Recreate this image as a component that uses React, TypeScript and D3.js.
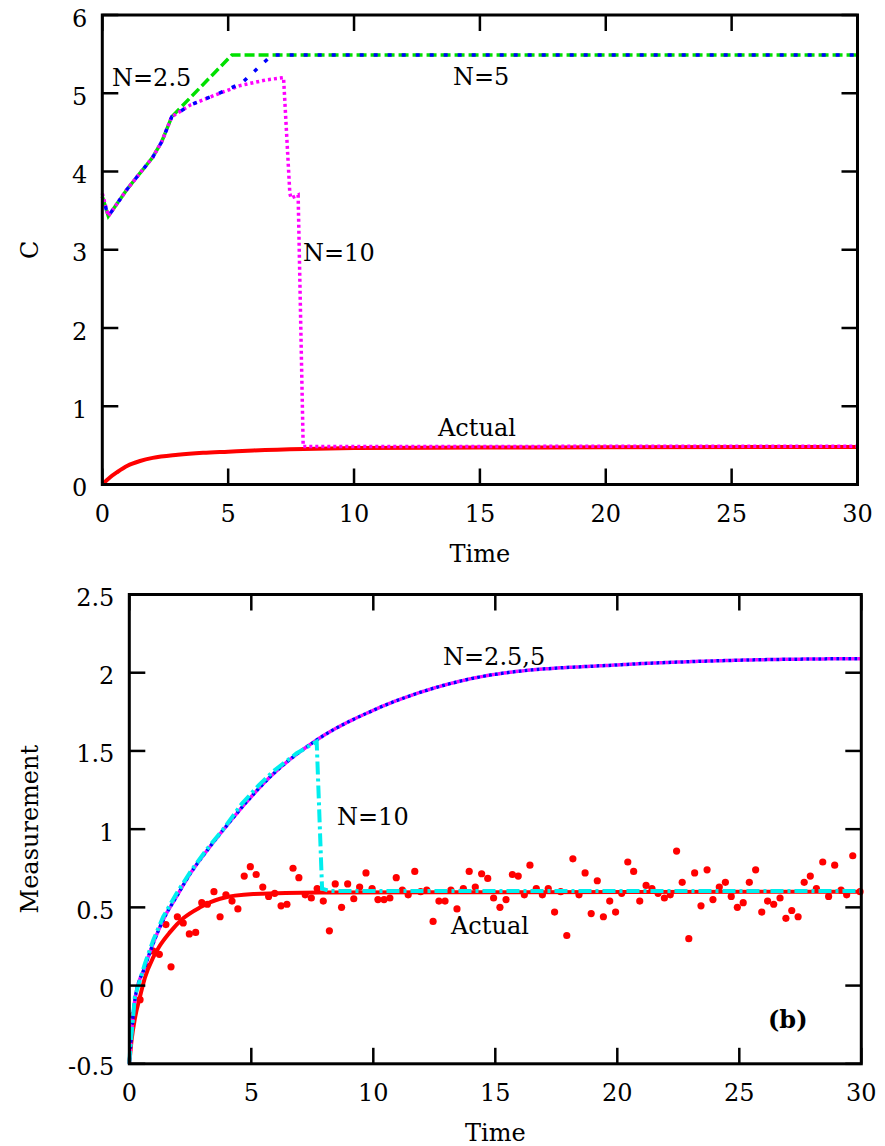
import React from 'react';
import * as d3 from 'd3';

const xTicks = [0, 5, 10, 15, 20, 25, 30];
const topYTicks = [0, 1, 2, 3, 4, 5, 6];
const botYTicks = [-0.5, 0, 0.5, 1, 1.5, 2, 2.5];

// Panel (a): estimated states C
const topActual: [number, number][] = [
  [0, 0], [0.3, 0.09], [0.6, 0.16], [1, 0.24], [1.5, 0.3], [2, 0.34], [3, 0.38], [4, 0.405],
  [5, 0.42], [6, 0.435], [8, 0.455], [10, 0.465], [15, 0.472], [20, 0.476], [30, 0.48],
];
const topN25: [number, number][] = [
  [0, 3.68], [0.24, 3.43], [1, 3.78], [2, 4.18], [2.36, 4.38], [2.76, 4.7], [5.15, 5.49], [30, 5.49],
];
const topN5: [number, number][] = [
  [0, 3.68], [0.24, 3.43], [1, 3.78], [2, 4.18], [2.36, 4.38], [2.76, 4.7], [3.5, 4.85],
  [4.5, 4.98], [5.54, 5.13], [6.74, 5.49], [30, 5.49],
];
const topN10: [number, number][] = [
  [0, 3.72], [0.24, 3.43], [1, 3.78], [2, 4.18], [2.36, 4.38], [2.76, 4.7], [3.5, 4.85],
  [4.5, 4.98], [5.5, 5.1], [6.5, 5.17], [7.2, 5.2], [7.45, 3.72], [7.5, 3.66], [7.78, 3.7],
  [7.98, 0.485], [10, 0.485], [20, 0.488], [30, 0.49],
];

// Panel (b): measurements
const botActual: [number, number][] = [
  [0, -0.5], [0.1, -0.34], [0.23, -0.21], [0.44, -0.07], [0.64, 0.05], [0.98, 0.18], [1.23, 0.25],
  [1.66, 0.34], [2.21, 0.43], [2.9, 0.5], [3.72, 0.555], [5.08, 0.585], [7.8, 0.595], [15, 0.597], [30, 0.6],
];
const botN255: [number, number][] = [
  [0, -0.5], [0.03, -0.43], [0.23, -0.09], [0.64, 0.12], [0.98, 0.27], [1.39, 0.42], [1.94, 0.57],
  [2.56, 0.73], [3.17, 0.86], [3.85, 0.995], [5.9, 1.353], [7.68, 1.57], [10, 1.76], [12.6, 1.907],
  [15, 1.99], [20, 2.05], [25, 2.08], [30, 2.09],
];
const botN10: [number, number][] = [
  [0, -0.5], [0.03, -0.42], [0.23, -0.07], [0.64, 0.14], [0.98, 0.29], [1.39, 0.44], [1.94, 0.59],
  [2.56, 0.74], [3.17, 0.87], [3.85, 1.0], [4.6, 1.16], [5.3, 1.28], [5.9, 1.37], [6.86, 1.485],
  [7.68, 1.56], [7.9, 0.62], [8.2, 0.605], [15, 0.605], [30, 0.605],
];
const measurements: [number, number][] = [
  [0.16, -0.19], [0.44, -0.09], [0.71, 0.125], [0.98, 0.22], [1.23, 0.2], [1.5, 0.39], [1.71, 0.12],
  [1.97, 0.44], [2.21, 0.4], [2.46, 0.33], [2.72, 0.34], [2.97, 0.53], [3.2, 0.52], [3.47, 0.6],
  [3.72, 0.44], [3.96, 0.58], [4.21, 0.54], [4.45, 0.49], [4.71, 0.7], [4.96, 0.76], [5.2, 0.71],
  [5.47, 0.63], [5.71, 0.57], [5.96, 0.59], [6.22, 0.51], [6.46, 0.52], [6.71, 0.75], [6.95, 0.69],
  [7.21, 0.58], [7.46, 0.56], [7.7, 0.62], [7.95, 0.54], [8.2, 0.35], [8.44, 0.65], [8.7, 0.5],
  [8.95, 0.65], [9.2, 0.555], [9.44, 0.63], [9.7, 0.72], [9.95, 0.62], [10.19, 0.55], [10.44, 0.55],
  [10.68, 0.56], [10.94, 0.69], [11.19, 0.61], [11.43, 0.58], [11.7, 0.73], [11.94, 0.6], [12.19, 0.61],
  [12.45, 0.41], [12.69, 0.54], [12.94, 0.54], [13.18, 0.61], [13.43, 0.49], [13.69, 0.62], [13.93, 0.73],
  [14.18, 0.63], [14.44, 0.715], [14.69, 0.685], [14.93, 0.56], [15.19, 0.5], [15.44, 0.55], [15.7, 0.71],
  [15.94, 0.7], [16.19, 0.58], [16.42, 0.77], [16.68, 0.62], [16.93, 0.58], [17.17, 0.62], [17.43, 0.47],
  [17.68, 0.6], [17.93, 0.32], [18.18, 0.81], [18.43, 0.58], [18.68, 0.72], [18.93, 0.46], [19.18, 0.67],
  [19.43, 0.44], [19.69, 0.54], [19.93, 0.47], [20.18, 0.59], [20.43, 0.79], [20.67, 0.73], [20.92, 0.54],
  [21.18, 0.64], [21.42, 0.62], [21.67, 0.59], [21.93, 0.56], [22.17, 0.58], [22.43, 0.86], [22.66, 0.66],
  [22.93, 0.3], [23.17, 0.72], [23.43, 0.51], [23.68, 0.74], [23.92, 0.55], [24.18, 0.63], [24.43, 0.66],
  [24.67, 0.57], [24.92, 0.5], [25.16, 0.53], [25.41, 0.66], [25.67, 0.74], [25.92, 0.47], [26.16, 0.54],
  [26.41, 0.52], [26.67, 0.56], [26.91, 0.43], [27.15, 0.48], [27.41, 0.44], [27.66, 0.66], [27.91, 0.7],
  [28.16, 0.62], [28.42, 0.79], [28.66, 0.57], [28.91, 0.77], [29.17, 0.61], [29.4, 0.58], [29.65, 0.83],
  [29.95, 0.6],
];

const FONT = 'DejaVu Serif';
const FS = 24;
const TICK = 16;

type Box = { left: number; right: number; top: number; bottom: number };

function Frame({ box, x, y, yTicks, yLabel, yLabelX }: {
  box: Box; x: d3.ScaleLinear<number, number>; y: d3.ScaleLinear<number, number>;
  yTicks: number[]; yLabel: string; yLabelX: number;
}) {
  const { left, right, top, bottom } = box;
  return (
    <g>
      {xTicks.map((t) => (
        <g key={'x' + t}>
          <line x1={x(t)} x2={x(t)} y1={bottom} y2={bottom - TICK} stroke="#000" strokeWidth={2.5} />
          <line x1={x(t)} x2={x(t)} y1={top} y2={top + TICK} stroke="#000" strokeWidth={2.5} />
          <text x={x(t)} y={bottom + 37} textAnchor="middle" fontFamily={FONT} fontSize={FS}>{String(t)}</text>
        </g>
      ))}
      {yTicks.map((v) => (
        <g key={'y' + v}>
          <line x1={left} x2={left + TICK} y1={y(v)} y2={y(v)} stroke="#000" strokeWidth={2.5} />
          <line x1={right} x2={right - TICK} y1={y(v)} y2={y(v)} stroke="#000" strokeWidth={2.5} />
          <text x={left - 15} y={y(v) + 11.5} textAnchor="end" fontFamily={FONT} fontSize={FS}>{String(v)}</text>
        </g>
      ))}
      <rect x={left} y={top} width={right - left} height={bottom - top} fill="none" stroke="#000" strokeWidth={3} />
      <text x={(left + right) / 2} y={bottom + 77} textAnchor="middle" fontFamily={FONT} fontSize={FS}>Time</text>
      <text transform={`translate(${yLabelX},${(top + bottom) / 2}) rotate(-90)`} textAnchor="middle"
        fontFamily={FONT} fontSize={FS}>{yLabel}</text>
    </g>
  );
}

export default function App() {
  const topBox: Box = { left: 102.3, right: 857.5, top: 15, bottom: 484.5 };
  const botBox: Box = { left: 129.3, right: 861.3, top: 594.5, bottom: 1063.8 };

  const xT = d3.scaleLinear().domain([0, 30]).range([topBox.left, topBox.right]);
  const yT = d3.scaleLinear().domain([0, 6]).range([topBox.bottom, topBox.top]);
  const xB = d3.scaleLinear().domain([0, 30]).range([botBox.left, botBox.right]);
  const yB = d3.scaleLinear().domain([-0.5, 2.5]).range([botBox.bottom, botBox.top]);

  const lineT = d3.line<[number, number]>().x((d) => xT(d[0])).y((d) => yT(d[1]));
  const lineTs = d3.line<[number, number]>().x((d) => xT(d[0])).y((d) => yT(d[1])).curve(d3.curveMonotoneX);
  const lineB = d3.line<[number, number]>().x((d) => xB(d[0])).y((d) => yB(d[1])).curve(d3.curveMonotoneX);
  const lineBl = d3.line<[number, number]>().x((d) => xB(d[0])).y((d) => yB(d[1]));

  const W = 3.5;
  return (
    <svg width={885} height={1146} style={{ position: 'absolute', left: 0, top: 0, background: '#fff' }}>
      <rect width={885} height={1146} fill="#fff" />
      {/* Panel (a) */}
      <g>
        <path d={lineTs(topActual) || ''} fill="none" stroke="#ff0000" strokeWidth={4} />
        <path d={lineT(topN25) || ''} fill="none" stroke="#00e000" strokeWidth={W} strokeDasharray="10,4" />
        <path d={lineT(topN10) || ''} fill="none" stroke="#ff00ff" strokeWidth={W} strokeDasharray="3,3" />
        <path d={lineT(topN5) || ''} fill="none" stroke="#0000ff" strokeWidth={W} strokeDasharray="4,10" strokeDashoffset={-10} />
        <Frame box={topBox} x={xT} y={yT} yTicks={topYTicks} yLabel="C" yLabelX={38} />
        <text x={112} y={86} fontFamily={FONT} fontSize={FS}>N=2.5</text>
        <text x={453} y={85} fontFamily={FONT} fontSize={FS}>N=5</text>
        <text x={303} y={261} fontFamily={FONT} fontSize={FS}>N=10</text>
        <text x={438} y={436} fontFamily={FONT} fontSize={FS}>Actual</text>
      </g>
      {/* Panel (b) */}
      <g>
        {measurements.map((d, i) => (
          <circle key={i} cx={xB(d[0])} cy={yB(d[1])} r={3.6} fill="#ff0000" />
        ))}
        <path d={lineB(botActual) || ''} fill="none" stroke="#ff0000" strokeWidth={4} />
        <path d={lineB(botN255) || ''} fill="none" stroke="#ff00ff" strokeWidth={W} strokeDasharray="3,3" />
        <path d={lineB(botN255) || ''} fill="none" stroke="#0000ff" strokeWidth={W} strokeDasharray="3,3" strokeDashoffset={3} />
        <path d={lineBl(botN10) || ''} fill="none" stroke="#00eeee" strokeWidth={W + 0.5} strokeDasharray="13,4,3,4" />
        <Frame box={botBox} x={xB} y={yB} yTicks={botYTicks} yLabel="Measurement" yLabelX={38} />
        <text x={443} y={665} fontFamily={FONT} fontSize={FS}>N=2.5,5</text>
        <text x={337} y={825} fontFamily={FONT} fontSize={FS}>N=10</text>
        <text x={451} y={934} fontFamily={FONT} fontSize={FS}>Actual</text>
        <text x={768} y={1028} fontFamily={FONT} fontSize={FS} fontWeight="bold">(b)</text>
      </g>
    </svg>
  );
}
